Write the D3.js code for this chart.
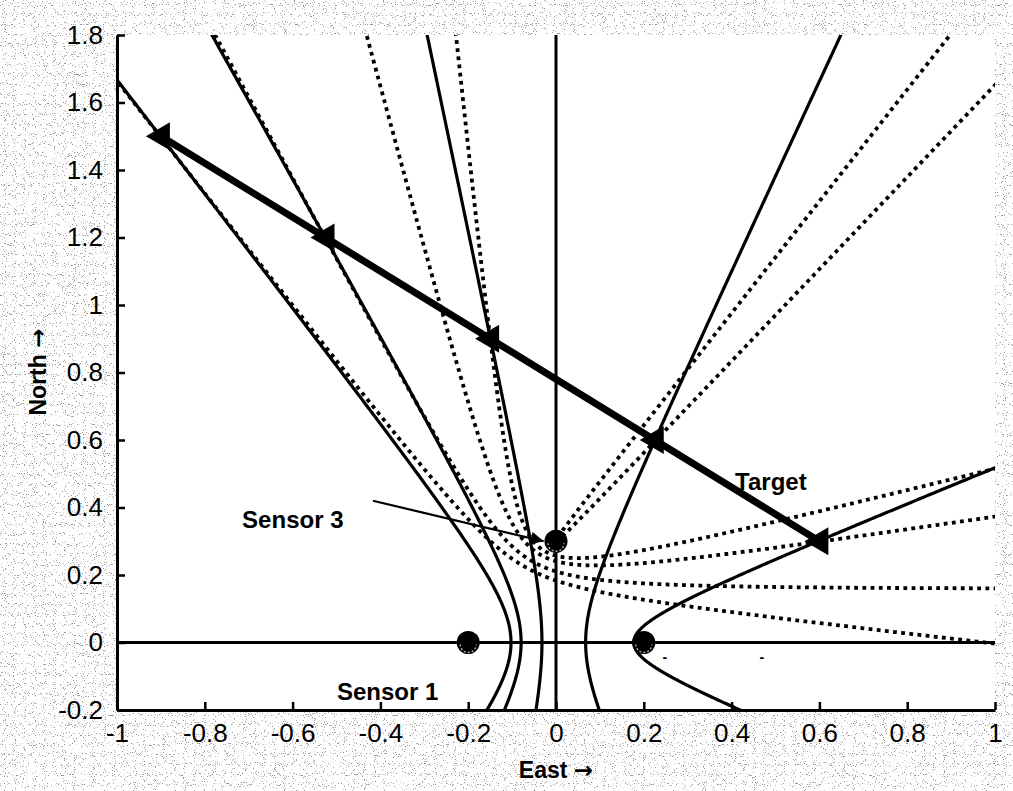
<!DOCTYPE html>
<html>
<head>
<meta charset="utf-8">
<script src="https://cdn.jsdelivr.net/npm/d3@7"></script>
<style>
  html, body { margin: 0; padding: 0; background: #fff; }
  svg { display: block; font-family: "Liberation Sans", Arial, sans-serif; }
</style>
</head>
<body>
<svg id="chart" width="1013" height="791"></svg>
<script>
// Sensor positions (East, North)
const sensorX = [-0.2, 0.2, 0];
const sensorY = [0, 0, 0.3];

// Target track samples
const targetX = [-0.9, -0.525, -0.15, 0.225, 0.6];
const targetY = [1.5, 1.2, 0.9, 0.6, 0.3];

// Measured range differences per target sample
const rangeDiff12 = [-0.205, -0.159, -0.064, 0.135, 0.354]; // sensor 1 minus sensor 2 (solid)
const rangeDiff13 = [0.155, 0.201, 0.283, 0.3602, 0.254];   // sensor 1 minus sensor 3 (dotted)

// Axis ticks
const xTicks = [-1, -0.8, -0.6, -0.4, -0.2, 0, 0.2, 0.4, 0.6, 0.8, 1];
const xTickLabels = ["-1", "-0.8", "-0.6", "-0.4", "-0.2", "0", "0.2", "0.4", "0.6", "0.8", "1"];
const yTicks = [-0.2, 0, 0.2, 0.4, 0.6, 0.8, 1, 1.2, 1.4, 1.6, 1.8];
const yTickLabels = ["-0.2", "0", "0.2", "0.4", "0.6", "0.8", "1", "1.2", "1.4", "1.6", "1.8"];

// Annotations
const labelText = ["Sensor 3", "Sensor 1", "Target"];
const labelX = [-0.715, -0.499, 0.408];
const labelY = [0.34, -0.169, 0.453];
const arrowFrom = [-0.417, 0.42];
const arrowTo = [-0.028, 0.30];
const strayX = [0.248, 0.469];
const strayY = [-0.058, -0.058];

const W = 1013, H = 791;
const svg = d3.select("#chart");
const x = d3.scaleLinear().domain([-1, 1]).range([117, 995]);
const y = d3.scaleLinear().domain([-0.2, 1.8]).range([710, 35]);

const defs = svg.append("defs");
const grain = defs.append("filter").attr("id", "grain")
  .attr("filterUnits", "userSpaceOnUse")
  .attr("x", 0).attr("y", 0).attr("width", W).attr("height", H);
grain.append("feTurbulence").attr("type", "fractalNoise")
  .attr("baseFrequency", 0.9).attr("numOctaves", 1).attr("seed", 7);
grain.append("feColorMatrix").attr("type", "matrix")
  .attr("values", "0 0 0 0 0.3  0 0 0 0 0.3  0 0 0 0 0.3  -14 0 0 0 5.25");

defs.append("clipPath").attr("id", "plotClip")
  .append("rect").attr("x", 117).attr("y", 35).attr("width", 878).attr("height", 675);

defs.append("marker").attr("id", "arrowHead")
  .attr("viewBox", "0 0 10 10").attr("refX", 10).attr("refY", 5)
  .attr("markerWidth", 16).attr("markerHeight", 13).attr("markerUnits", "userSpaceOnUse")
  .attr("orient", "auto")
  .append("path").attr("d", "M0,0 L10,5 L0,10 Z").attr("fill", "#000");

// Figure background with stipple
svg.append("rect").attr("width", W).attr("height", H).attr("fill", "#fff");
svg.append("rect").attr("width", W).attr("height", H).attr("filter", "url(#grain)");

// Plot area
svg.append("rect").attr("x", 117).attr("y", 35).attr("width", 878).attr("height", 675).attr("fill", "#fff");

const plot = svg.append("g").attr("clip-path", "url(#plotClip)");
const line = d3.line().x(d => x(d[0])).y(d => y(d[1]));

// One branch of the hyperbola |P-Fa| - |P-Fb| = delta
function hyperbolaBranch(fa, fb, delta) {
  const cx = (fa[0] + fb[0]) / 2, cy = (fa[1] + fb[1]) / 2;
  const dx = fb[0] - fa[0], dy = fb[1] - fa[1];
  const L = Math.hypot(dx, dy), c = L / 2;
  const ux = dx / L, uy = dy / L, vx = -uy, vy = ux;
  const a = Math.abs(delta) / 2, b = Math.sqrt(Math.max(c * c - a * a, 1e-9));
  const s = Math.sign(delta);
  const N = 700, T = 5;
  return d3.range(-N, N + 1).map(i => {
    const t = (i / N) * T;
    const p = s * a * Math.cosh(t), q = b * Math.sinh(t);
    return [cx + p * ux + q * vx, cy + p * uy + q * vy];
  });
}

const S = sensorX.map((sx, i) => [sx, sensorY[i]]);

// Reference lines through the origin
plot.append("path").attr("d", line([[-1, 0], [1, 0]]))
  .attr("stroke", "#000").attr("stroke-width", 3).attr("fill", "none");
plot.append("path").attr("d", line([[0, -0.2], [0, 1.8]]))
  .attr("stroke", "#000").attr("stroke-width", 3).attr("fill", "none");

// Sensor 1 / sensor 2 hyperbolas
plot.selectAll("path.h12").data(rangeDiff12).join("path").attr("class", "h12")
  .attr("d", d => line(hyperbolaBranch(S[0], S[1], d)))
  .attr("fill", "none").attr("stroke", "#000").attr("stroke-width", 3.2);

// Sensor 1 / sensor 3 hyperbolas
plot.selectAll("path.h13").data(rangeDiff13).join("path").attr("class", "h13")
  .attr("d", d => line(hyperbolaBranch(S[0], S[2], d)))
  .attr("fill", "none").attr("stroke", "#000").attr("stroke-width", 3.8)
  .attr("stroke-dasharray", "3.8 4.4");

// Target track
const track = targetX.map((tx, i) => [tx, targetY[i]]);
plot.append("path").attr("d", line(track))
  .attr("fill", "none").attr("stroke", "#000").attr("stroke-width", 7);
plot.selectAll("path.tri").data(track).join("path").attr("class", "tri")
  .attr("transform", d => `translate(${x(d[0])},${y(d[1])})`)
  .attr("d", "M-15,0 L9,-14 L9,14 Z").attr("fill", "#000");

// Sensors
const sens = plot.selectAll("g.sensor").data(S).join("g").attr("class", "sensor")
  .attr("transform", d => `translate(${x(d[0])},${y(d[1])})`);
sens.append("circle").attr("r", 11.5).attr("fill", "#000");
sens.append("path").attr("d", "M-8,2 A8,8 0 0,0 8,2")
  .attr("fill", "none").attr("stroke", "#bbb").attr("stroke-width", 1.3).attr("stroke-dasharray", "2 2");

// Annotation arrow and labels
plot.append("path").attr("d", line([arrowFrom, arrowTo]))
  .attr("stroke", "#000").attr("stroke-width", 2.2).attr("fill", "none")
  .attr("marker-end", "url(#arrowHead)");
plot.selectAll("text.lbl").data(labelText).join("text").attr("class", "lbl")
  .attr("x", (d, i) => x(labelX[i])).attr("y", (d, i) => y(labelY[i]))
  .attr("font-size", 24).attr("font-weight", "bold").text(d => d);
plot.selectAll("text.stray").data(strayX).join("text").attr("class", "stray")
  .attr("x", d => x(d)).attr("y", (d, i) => y(strayY[i]))
  .attr("font-size", 14).attr("font-weight", "bold").attr("text-anchor", "middle").text("-");

// Axes
const xAxis = d3.axisBottom(x).tickValues(xTicks)
  .tickFormat((d, i) => xTickLabels[i]).tickSizeInner(-8).tickSizeOuter(0).tickPadding(14);
const yAxis = d3.axisLeft(y).tickValues(yTicks)
  .tickFormat((d, i) => yTickLabels[i]).tickSizeInner(-8).tickSizeOuter(0).tickPadding(14);

const gx = svg.append("g").attr("transform", "translate(0,710)").call(xAxis);
const gy = svg.append("g").attr("transform", "translate(117,0)").call(yAxis);
[gx, gy].forEach(g => {
  g.attr("font-size", 26).attr("font-family", "'Liberation Sans', Arial, sans-serif");
  g.select(".domain").attr("stroke", "#000").attr("stroke-width", 3);
  g.selectAll(".tick line").attr("stroke", "#000").attr("stroke-width", 2.5);
  g.selectAll(".tick text").attr("fill", "#000");
});

// Axis titles, arrows set in DejaVu for a fuller glyph
const east = svg.append("text").attr("x", 556).attr("y", 778).attr("text-anchor", "middle")
  .attr("font-size", 23).attr("font-weight", "bold");
east.append("tspan").text("East ");
east.append("tspan").attr("font-family", "'DejaVu Sans', sans-serif").text("\u2192");
const north = svg.append("text").attr("transform", "translate(46,372) rotate(-90)").attr("text-anchor", "middle")
  .attr("font-size", 23).attr("font-weight", "bold");
north.append("tspan").text("North ");
north.append("tspan").attr("font-family", "'DejaVu Sans', sans-serif").text("\u2192");
</script>
</body>
</html>
